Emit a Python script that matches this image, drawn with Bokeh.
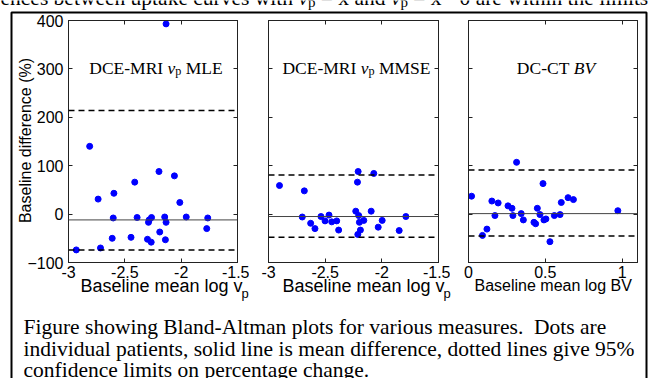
import math
from bokeh.plotting import figure
from bokeh.models import Range1d, FixedTicker, LinearAxis, Span
from bokeh.core.properties import value
from bokeh.embed import file_html
from bokeh.resources import INLINE

# ---------------- data ----------------
mle_x = [-2.134, -2.812, -2.737, -2.597, -2.412, -2.197, -2.060, -2.012, -2.603, -2.391,
         -2.263, -2.284, -2.290, -2.146, -2.134, -1.955, -1.764, -1.773, -2.190, -2.612,
         -2.445, -2.299, -2.266, -2.140, -2.716, -2.931]
mle_y = [393, 140, 31, 43, 66, 88, 79, 24, -8, -7,
         -7, -12, -17, -6, -17, -6, -8, -30, -37, -50,
         -48, -52, -58, -53, -70, -74]
mle_mean = -12
mle_limits = [-74, 214]

mmse_x = [-2.903, -2.684, -2.209, -2.071, -2.215, -2.702, -2.537, -2.466, -2.628, -2.501,
          -2.442, -2.398, -2.590, -2.381, -2.230, -2.204, -2.094, -2.198, -2.159, -2.189,
          -2.212, -1.997, -2.032, -1.847, -1.788]
mmse_y = [59, 48, 88, 84, 66, -6, -5, -2, -19, -14,
          -16, -14, -30, -33, 6, -3, 6, -17, -13, -33,
          -42, -13, -27, -34, -5]
mmse_mean = -5
mmse_limits = [-48, 81]

ct_x = [0.313, 0.485, 0.020, 0.152, 0.193, 0.257, 0.283, 0.448, 0.604, 0.648,
        0.683, 0.972, 0.172, 0.289, 0.343, 0.357, 0.426, 0.437, 0.465, 0.491,
        0.504, 0.559, 0.596, 0.120, 0.091, 0.530]
ct_y = [107, 63, 37, 27, 23, 17, 12, 12, 24, 34,
        30, 7, -3, -3, 1, -12, -17, -20, -1, -12,
        -10, -3, -1, -31, -44, -57]
ct_mean = 1
ct_limits = [-45, 91]

y_ticks = [-100, 0, 100, 200, 300, 400]
vp_ticks = [-3, -2.5, -2, -1.5]
vp_tick_labels = ["-3", "-2.5", "-2", "-1.5"]
bv_ticks = [0, 0.5, 1]
bv_tick_labels = ["0", "0.5", "1"]

titles = [
    [("DCE-MRI ", "n"), ("v", "i"), ("p", "s"), (" MLE", "n")],
    [("DCE-MRI ", "n"), ("v", "i"), ("p", "s"), (" MMSE", "n")],
    [("DC-CT ", "n"), ("BV", "i")],
]
xlabels = [("Baseline mean log v", "p"), ("Baseline mean log v", "p"), ("Baseline mean log BV", "")]
ylabel = "Baseline difference (%)"
caption = [
    "Figure showing Bland-Altman plots for various measures.\u00a0 Dots are",
    "individual patients, solid line is mean difference, dotted lines give 95%",
    "confidence limits on percentage change.",
]

# ---------------- layout constants ----------------
FRAME_TOP = 20
FRAME_H = 242
frames = [(68, 169), (268, 170), (468, 169)]
BL, BR, BT, BB = 60, 12, 12, 40
BASE_FIX = -8   # renderer puts alphabetic baselines ~8px low

SERIF = "Liberation Serif"
SANS = "Liberation Sans"

TIMES = {' ': 250, '-': 333, '.': 250, ',': 250, '%': 833, '=': 564, '\u00b7': 250,
         'A': 722, 'B': 667, 'C': 667, 'D': 722, 'E': 611, 'F': 556, 'I': 333, 'L': 611,
         'M': 889, 'R': 667, 'S': 556, 'T': 611, 'V': 722,
         'a': 444, 'b': 500, 'c': 444, 'd': 500, 'e': 444, 'f': 333, 'g': 500, 'h': 500,
         'i': 278, 'k': 500, 'l': 278, 'm': 778, 'n': 500, 'o': 500, 'p': 500, 'r': 333,
         's': 389, 't': 278, 'u': 500, 'v': 500, 'w': 722, 'x': 500, 'y': 500}
TIMES_I = {'v': 444, 'B': 611, 'V': 611, 'x': 444}
ARIAL = {' ': 278, 'B': 667, 'V': 667, 'a': 556, 's': 500, 'e': 556, 'l': 222, 'i': 222,
         'n': 556, 'm': 833, 'o': 556, 'g': 556, 'v': 500, 'p': 556}


def tw(s, size, table, alt=None):
    tot = 0
    for c in s:
        if alt and c in alt:
            tot += alt[c]
        else:
            tot += table.get(c, 500)
    return tot * size / 1000.0


def absstyle(left, top):
    return {"position": "absolute", "left": "%dpx" % left, "top": "%dpx" % top}


# ---------------- background page (box, texts) ----------------
bg = figure(width=650, height=378, x_range=Range1d(0, 650), y_range=Range1d(378, 0),
            x_axis_type=None, y_axis_type=None, toolbar_location=None, output_backend="svg",
            min_border=0, outline_line_color=None, background_fill_color="white",
            border_fill_color="white", styles=absstyle(0, 0))
bg.grid.visible = False

# document box
bg.line(x=[11, 11, 646, 646], y=[390, 12, 12, 390], line_color="black", line_width=2)


def piece(x, y, s, size, font=SERIF, style="normal", table=TIMES, alt=None):
    """draw one text run; leading spaces are turned into an x offset"""
    lead = len(s) - len(s.lstrip(" "))
    x0 = x + tw(" " * lead, size, table)
    txt = s.strip(" ")
    if txt:
        bg.text(x=[x0], y=[y + BASE_FIX], text=[txt], text_font=value(font),
                text_font_size="%.1fpx" % size, text_font_style=style,
                text_baseline="alphabetic", text_align="left", text_color="black")
    return x + tw(s, size, table, alt)


# cut-off line of running text at the very top
TOP_FS = 21.5
top_base = 5
xx = 0
xx = piece(xx, top_base, "ences between uptake curves with ", TOP_FS)
xx = piece(xx, top_base, "v", TOP_FS, style="italic", alt=TIMES_I)
xx = piece(xx, top_base + 4, "p", TOP_FS * 0.7)
xx = piece(xx, top_base, " = x and ", TOP_FS)
xx = piece(xx, top_base, "v", TOP_FS, style="italic", alt=TIMES_I)
xx = piece(xx, top_base + 4, "p", TOP_FS * 0.7)
xx = piece(xx, top_base, " = x \u00b7 0 are within the limits", TOP_FS)

# caption
CAP_FS = 21.5
for line, yb in zip(caption, [334, 356, 377]):
    piece(23, yb, line, CAP_FS)

# panel titles
TITLE_FS = 17.5
title_base = 75
for (fl, fw), pieces in zip(frames, titles):
    widths = []
    for s, st in pieces:
        if st == "s":
            widths.append(tw(s, TITLE_FS * 0.7, TIMES))
        elif st == "i":
            widths.append(tw(s, TITLE_FS, TIMES, TIMES_I))
        else:
            widths.append(tw(s, TITLE_FS, TIMES))
    x0 = fl + fw / 2.0 - sum(widths) / 2.0 + 3
    for (s, st), w in zip(pieces, widths):
        if st == "s":
            piece(x0, title_base + 3, s, TITLE_FS * 0.7)
        elif st == "i":
            piece(x0, title_base, s, TITLE_FS, style="italic", alt=TIMES_I)
        else:
            piece(x0, title_base, s, TITLE_FS)
        x0 += w

# x axis labels
xl_left = [80, 282, 474]
xl_size = [18, 18, 16]
xl_base = 293
for x0, fs, (main, sub) in zip(xl_left, xl_size, xlabels):
    xe = piece(x0, xl_base, main, fs, font=SANS, table=ARIAL)
    if sub:
        piece(xe - 1, xl_base + 8, sub, 13, font=SANS, table=ARIAL)

# y axis label
bg.text(x=[25], y=[140], text=[ylabel], text_font=value(SANS), text_font_size="16px",
        text_baseline="middle", text_align="center", angle=math.pi / 2, text_color="black")


# ---------------- the three Bland-Altman panels ----------------
def make_panel(idx, xs, ys, xr, xticks, xlabs, mean, limits, ylabels_on):
    fl, fw = frames[idx]
    p = figure(frame_width=fw, frame_height=FRAME_H, x_range=Range1d(*xr),
               y_range=Range1d(-100, 400), toolbar_location=None, output_backend="svg",
               x_axis_type=None, y_axis_type=None,
               min_border_left=BL, min_border_right=BR, min_border_top=BT, min_border_bottom=BB,
               border_fill_color=None, background_fill_color=None,
               outline_line_color="#222222", outline_line_width=1,
               styles=absstyle(fl - BL, FRAME_TOP - BT))
    for loc, tick_vals, labs, show in [("below", xticks, xlabs, True), ("above", xticks, xlabs, False),
                                       ("left", y_ticks, None, ylabels_on), ("right", y_ticks, None, False)]:
        ax = LinearAxis(ticker=FixedTicker(ticks=tick_vals))
        ax.major_tick_in = 4
        ax.major_tick_out = 0
        ax.minor_tick_line_color = None
        ax.axis_line_color = "#222222"
        ax.major_tick_line_color = "#222222"
        if show:
            ax.major_label_text_font = SANS
            ax.major_label_text_font_size = "16px"
            ax.major_label_text_color = "black"
            ax.major_label_standoff = 3 if loc == "below" else 5
            if labs is not None:
                ax.major_label_overrides = {v: l for v, l in zip(tick_vals, labs)}
        else:
            ax.major_label_text_font_size = "1px"
            ax.major_label_text_color = None
            ax.major_label_standoff = 0
        p.add_layout(ax, loc)
    p.grid.visible = False
    p.add_layout(Span(location=mean, dimension="width", line_color="#444444", line_width=1))
    for lim in limits:
        p.add_layout(Span(location=lim, dimension="width", line_color="black", line_width=1.5,
                          line_dash="6 4"))
    p.scatter(xs, ys, size=6, marker="circle", fill_color="#0000ff", line_color="#0000ff")
    return p


p1 = make_panel(0, mle_x, mle_y, (-3, -1.5), vp_ticks, vp_tick_labels, mle_mean, mle_limits, True)
p2 = make_panel(1, mmse_x, mmse_y, (-3, -1.5), vp_ticks, vp_tick_labels, mmse_mean, mmse_limits, False)
p3 = make_panel(2, ct_x, ct_y, (0, 1.1), bv_ticks, bv_tick_labels, ct_mean, ct_limits, False)

open("out.html", "w").write(file_html([bg, p1, p2, p3], INLINE))
